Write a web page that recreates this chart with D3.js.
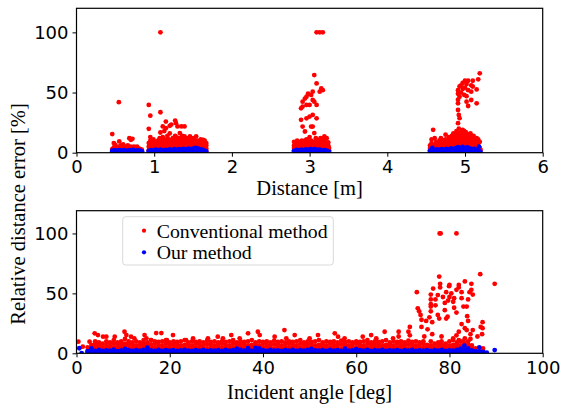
<!DOCTYPE html>
<html>
<head>
<title>Relative distance error</title>
<script src="https://d3js.org/d3.v7.min.js"></script>
<style>body{margin:0;background:#fff}</style>
</head>
<body>
<div id="container"></div>
<script>
const distTicks = [0, 1, 2, 3, 4, 5, 6];
const angleTicks = [0, 20, 40, 60, 80, 100];
const errTicks = [0, 50, 100];
const seriesNames = ["Conventional method", "Our method"];

// every entry is a column: [x, y1, y2, ...]
const distOurs = [
  [0.46,0.5,1.6],[0.49,1.2,2.0],[0.52,0.4,1.7],[0.55,1.0,2.2],[0.58,0.6,1.8],[0.61,1.3,2.1],[0.64,0.5,1.5],[0.67,1.1,2.0],[0.70,0.7,1.9],[0.73,1.2,2.3],[0.76,0.5,1.6],[0.79,1.0,2.0],[0.82,0.6,1.7],[0.845,1.0],
  [0.93,0.5,1.5],[0.96,1.0,2.2],[0.99,0.4,1.8],[1.02,1.2,2.5],[1.05,0.6,2.0],[1.08,1.1,2.6],[1.11,0.5,1.9],[1.14,1.3,2.4],[1.17,0.7,2.2],[1.20,1.2,2.8],[1.23,0.6,2.1],[1.26,1.4,2.9],[1.29,0.8,2.4],[1.32,1.3,3.0],[1.35,0.7,2.5],[1.38,1.5,3.2],[1.41,0.9,2.7],[1.44,1.4,3.3],[1.47,0.8,2.9],[1.50,1.5,3.4],[1.53,1.0,3.0,4.0],[1.56,1.4,3.5],[1.59,0.8,2.8],[1.62,1.2,2.5],[1.65,0.6,1.8],[1.67,1.0],
  [2.80,0.5,1.5],[2.83,1.1,2.3],[2.86,0.6,2.0],[2.89,1.2,2.6],[2.92,0.5,2.2],[2.95,1.3,2.8],[2.98,0.7,2.4],[3.01,1.2,3.0],[3.04,0.6,2.5],[3.07,1.3,2.9],[3.10,0.8,2.3],[3.13,1.1,2.6],[3.16,0.5,1.9],[3.19,1.0,2.2],[3.22,0.6,1.6],[3.25,0.8],
  [4.55,0.5,1.6],[4.58,1.2,2.5,4.0],[4.61,0.6,2.0],[4.64,1.3,2.8],[4.67,0.7,2.3],[4.70,1.4,3.0],[4.73,0.8,2.6],[4.76,1.5,3.2],[4.79,0.9,2.8],[4.82,1.6,3.5],[4.85,1.0,3.0],[4.88,1.7,3.8],[4.91,1.1,3.3,4.6],[4.94,1.8,3.9],[4.97,1.0,3.4,4.8],[5.00,1.7,3.8],[5.03,1.1,3.2,4.5],[5.06,1.6,3.6],[5.09,0.9,2.9],[5.12,1.5,3.1],[5.15,0.7,2.4],[5.18,1.2,5.0],[5.20,0.6]
];

const distConv = [
  [0.46,1,3,15.5],[0.48,2,4.5,8],[0.50,1.5,3.5,6.5],[0.52,2.5,4],[0.545,1,3,42],[0.55,2,5,9.4],[0.57,1.5,3.5,6],[0.60,2,4,7],[0.62,1,3,5],[0.64,2.5,4.5],[0.66,1.5,3,6],[0.68,2,4,12],[0.70,1,3,5,10.7],[0.72,2,4,11.5],[0.74,1.5,3,5],[0.76,2,4],[0.78,1,3,5],[0.80,2,3.5],[0.82,1.5,3],[0.84,1,2.5],
  [0.93,2,5,8,19.8,39.7],[0.95,3,6,10,13,30.8],[0.97,1.5,4,7,9],[0.99,2.5,5,8,11],[1.01,2,4,6,9],[1.03,3,5.5,7.5],[1.05,1.5,4,6.5,10],[1.07,2.5,5,8,12],[1.08,100,33.6,16.8],[1.09,2,4.5,7,9.5],[1.11,3,6,8.5,21.8,13],[1.13,1.5,4,7,10,18],[1.15,2.5,5,8,11,20.4,25.9],[1.17,2,4,6.5,9,14],[1.19,3,5.5,8,11],[1.20,22.3,16],[1.22,1.5,4.5,7,10,23.4],[1.24,2.5,5,7.5,12],[1.26,2,4,6.5,9,11],[1.27,26.7,14],[1.28,3,5.5,8,10.5,24.5],[1.30,1.5,4,7,9.5,21.8,12.5],[1.32,2.5,5,8,11],[1.33,16.3],[1.34,2,4.5,6.5,9,12],[1.35,21.8],[1.36,3,5,7.5,10,14],[1.38,1.5,4,6,9,11.5],[1.39,21.8,13.5],[1.40,2.5,5,8,10],[1.42,2,4.5,7,9.5,12],[1.44,3,5.5,8,11],[1.46,1.5,4,6.5,9,13.5],[1.48,2.5,5,7,10],[1.50,2,4,6.5,9,12],[1.52,3,5.5,8,10.5],[1.54,1.5,4.5,7,9,13.5],[1.56,2.5,5,7.5,10],[1.58,2,4,6,8.5],[1.60,3,5,7,9.5,11],[1.62,1.5,4,6.5,8.5],[1.63,10.7],[1.65,2,4.5,7,8,10],[1.67,1.5,3.5,6,8],
  [2.80,2,4,6,9],[2.82,1.5,3.5,5.5,8],[2.84,2.5,5,7,10],[2.86,2,4,6,9],[2.88,1.5,3.5,6.5,8.5],[2.89,27.3,36.9],[2.90,2.5,5,7.5,10],[2.91,21.7,38.3,42.4],[2.92,2,4,6,9],[2.94,1.5,3.5,7,10,17.6,45],[2.96,2.5,5,8,11,28.6,39.7,46.5],[2.98,2,4.5,7,9,49],[3.00,1.5,4,6,8.5,13,30,39.7],[3.02,2.5,5,7.5,10,21.7,48],[3.04,2,4,6.5,9,31.4,21.7,43.8,50.7],[3.06,1.5,3.5,6,8,16.3,42.4,64.5],[3.08,2.5,5,7,10,12],[3.09,28.6,39.7,57.6,100],[3.10,2,4,6.5,9],[3.12,1.5,3.5,7,10.5],[3.13,50.7,100],[3.14,2.5,5,8,12],[3.15,53.4],[3.16,2,4,6,9,11],[3.17,52,100],[3.18,1.5,4.5,7,10],[3.19,13.5],[3.20,2.5,5,8,11],[3.22,2,4,6.5,12],[3.24,1.5,3.5,6,8.5],[3.25,2,4],
  [4.55,2,4,6],[4.57,1.5,3.5,8,11],[4.59,2.5,5,19],[4.61,2,4,6.5,12],[4.63,1.5,3.5,5.5,9],[4.65,2.5,5,7.5],[4.67,2,4,6,10],[4.69,1.5,3.5,7,12],[4.71,2.5,5,8,10.5],[4.73,2,4.5,6.5,9],[4.75,1.5,4,7,11,15],[4.77,2.5,5,8,10],[4.79,2,4,6.5,9.5,13],[4.81,1.5,3.5,7,10,12],[4.83,2.5,5,8,11,14],[4.85,2,4.5,7,10,13,16],[4.87,1.5,4,6.5,9,12,15],[4.89,2.5,5,8,11,14,18],[4.91,2,4.5,7,10,13,16,24.5,35.5,41,44,49,52],[4.92,31.4,20],[4.93,1.5,4,7,9.5,12.5,15,28.7,46.5,55],[4.95,2.5,5,8,11,14,17,56,50],[4.97,2,4.5,7.5,10,13,16,19,58,53],[4.99,1.5,4,6.5,9.5,12,15,18,48],[5.00,59.8,54],[5.01,2.5,5,8,11,14,17],[5.02,42.4,47,57],[5.03,2,4.5,7,10,13,15.5],[5.04,59.8,52,38.8],[5.05,1.5,4,6.5,9,12,14],[5.07,2.5,5,8,11,13,16],[5.08,50.7,43.8,56],[5.09,2,4,7,9.5,12],[5.10,59.8,55],[5.11,1.5,4,6,9,11,14],[5.13,2.5,5,7.5,10],[5.15,2,4,6.5,9,52.6,41,12],[5.17,1.5,3.5,6,8,61,11],[5.19,2,4,66,9],[5.20,2.5]
];

const angleOurs = [
  [0.6,4.2],[1.1,0.2],
  [2.4,0.5,1.8],[3.2,1.2,2.6,4.0],[4,0.6,2.0],[4.8,1.4,2.8],[5.6,0.5,1.9],[6.4,1.1,2.5],[7.2,0.7,2.2],[8,1.3,3.0],[8.8,0.5,1.8],[9.6,1.0,2.4],[10.4,0.6,2.1,3.6],[11.2,1.2,2.7],[12,0.5,2.0],[12.8,1.3,2.6],[13.6,0.8,2.2],[14.4,1.1,2.8],[15.2,0.6,2.3,4.8],[16,1.4,2.5],[16.8,0.5,1.9],[17.6,1.2,2.9],[18.4,0.7,2.1],[19.2,1.0,2.6],[20,0.5,2.2],[20.8,1.3,2.7],[21.6,0.6,1.9],[22.4,1.1,2.4],[23.2,0.8,2.8],[24,1.2,2.2],[24.8,0.5,2.0],[25.6,1.4,2.6],[26.4,0.6,2.3],[27.2,1.0,2.9],[28,0.7,2.1],[28.8,1.3,2.5],[29.6,0.5,2.2],[30.4,1.1,2.7],[31.2,0.6,2.0],[32,1.2,2.8],[32.8,0.8,2.3],[33.6,1.0,2.6],[34.4,0.5,2.1,3.8],[35.2,1.3,2.9],[36,0.6,2.2],[36.8,1.2,2.5,4.2],[37.6,0.7,2.0],[38.4,1.1,2.7,4.5],[39.2,0.5,2.3,4.0],[40,1.4,2.6],[40.8,0.6,2.1],[41.6,1.0,2.8],[42.4,0.8,2.2],[43.2,1.2,2.5],[44,0.5,2.0],[44.8,1.3,2.7],[45.6,0.6,2.3],[46.4,1.1,2.9],[47.2,0.7,2.1],[48,1.2,2.6],[48.8,0.5,2.2],[49.6,1.0,2.8],[50.4,0.6,2.0,3.6],[51.2,1.3,2.5],[52,0.8,2.3],[52.8,1.1,2.7],[53.6,0.5,2.1],[54.4,1.2,2.9],[55.2,0.6,2.2],[56,1.0,2.6],[56.8,0.7,2.0],[57.6,1.4,2.8,3.8],[58.4,0.5,2.3],[59.2,1.1,2.5],[60,0.6,2.1,3.5],[60.8,1.2,2.7],[61.6,0.8,2.2],[62.4,1.0,2.9],[63.2,0.5,2.0],[64,1.3,2.6],[64.8,0.6,2.3],[65.6,1.1,2.8],[66.4,0.7,2.1],[67.2,1.2,2.5],[68,0.5,2.2],[68.8,1.0,2.7],[69.6,0.6,2.0],[70.4,1.3,2.6],[71.2,0.8,2.3],[72,1.1,2.8],[72.8,0.5,2.1],[73.6,1.2,2.5],[74.4,0.6,2.2],[75.2,1.0,2.7],[76,0.7,2.0],[76.8,1.4,2.6],[77.6,0.5,2.3],[78.4,1.1,2.9],[79.2,0.6,2.1],[80,1.2,2.5],[80.8,0.8,2.2],[81.6,1.0,2.8],[82.4,0.5,2.4,3.8],[83.2,1.3,2.6,6.3],[84,0.6,2.0,4.0],[84.8,1.1,2.4],[85.6,0.7,1.8],[86.4,0.4,1.5,5.0],[87.2,0.8,1.2],[88,0.5],[89.7,2.7]
];

const angleConv = [
  [0.4,9.7],[1.35,5.5],[2.4,2,5],[2.8,9.7],
  [3.2,1.5,4,7],[4,2.5,5.5,8,10],[4.8,1.5,4,6.5,9],[5.6,3,5,8],[6.4,2,4.5,7,10],[7.2,1.5,3.5,6,9],[8,2.5,5,8,11],[8.8,1.5,4,6.5,9],[9.6,2,5,7.5,10],[10.4,3,5.5,8,12],[11.2,1.5,4,7,10],[12,2.5,5,7.5,9],[12.8,2,4.5,6.5,10],[13.6,1.5,4,7,9],[14.4,2.5,5.5,8,11],[15.2,2,4,6.5,9],[16,1.5,5,7.5,11],[16.8,3,5,8,10],[17.6,2,4.5,7,9.5],[18.4,1.5,4,6.5,10],[19.2,2.5,5,8,11],[20,2,4,7,9],[20.8,1.5,5,7.5,10],[21.6,3,5.5,8,9.5],[22.4,2,4,6.5,10],[23.2,1.5,4.5,7,11],[24,2.5,5,7.5,9],[24.8,2,4,6.5,10],[25.6,1.5,5,8,9.5],[26.4,3,5,7,10],[27.2,2,4.5,6.5,9],[28,1.5,4,7.5,10.5],[28.8,2.5,5.5,8,9.5],[29.6,2,4,6.5,10],[30.4,1.5,5,7.5,9],[31.2,3,5,8,10],[32,2,4.5,7,9.5],[32.8,1.5,4,6.5,10],[33.6,2.5,5,8,11],[34.4,2,4,7,9],[35.2,1.5,5,7.5,10],[36,3,5.5,8,9.5],[36.8,2,4,6.5,10],[37.6,1.5,4.5,7,11],[38.4,2.5,5,7.5,9],[39.2,2,4,6.5,10],[40,1.5,5,8,9.5],[40.8,3,5,7,10],[41.6,2,4.5,6.5,9],[42.4,1.5,4,7.5,10.5],[43.2,2.5,5.5,8,9.5],[44,2,4,6.5,10],[44.8,1.5,5,7.5,9],[45.6,3,5,8,10],[46.4,2,4.5,7,9.5],[47.2,1.5,4,6.5,10],[48,2.5,5,8,11],[48.8,2,4,7,9],[49.6,1.5,5,7.5,10],[50.4,3,5.5,8,9.5],[51.2,2,4,6.5,10],[52,1.5,4.5,7,11],[52.8,2.5,5,7.5,9],[53.6,2,4,6.5,10],[54.4,1.5,5,8,9.5],[55.2,3,5,7,10],[56,2,4.5,6.5,9],[56.8,1.5,4,7.5,10.5],[57.6,2.5,5.5,8,9.5],[58.4,2,4,6.5,10],[59.2,1.5,5,7.5,9],[60,3,5,8,10],[60.8,2,4.5,7,9.5],[61.6,1.5,4,6.5,10],[62.4,2.5,5,8,11],[63.2,2,4,7,9],[64,1.5,5,7.5,10],[64.8,3,5.5,8,9.5],[65.6,2,4,6.5,10],[66.4,1.5,4.5,7,11],[67.2,2.5,5,7.5,9],[68,2,4,6.5,10],[68.8,1.5,5,8,9.5],[69.6,3,5,7,10],[70.4,2,4.5,6.5,9],[71.2,1.5,4,7.5,10.5],[72,2.5,5.5,8,9.5],[72.8,2,4,6.5,10],[73.6,1.5,5,7.5,9],[74.4,3,5,8,10],[75.2,2,4.5,7],[76,1.5,4,6.5,10],[76.8,2.5,5,8],[77.6,2,4,7,9],[78.4,1.5,5,7.5],[79.2,3,5.5,8],[80,2,4,6.5,10],[80.8,1.5,4.5,7,11],[81.6,2.5,5,7.5,9],[82.4,2,4,6.5,10],[83.2,1.5,5,8],[84,3,5,7,10],[84.8,2,4.5,6.5],[85.6,1.5,4],[86.4,2.5],[87.2,2,4],
  [3.9,16.7],[4.6,15.2],[5.7,13.9],[6.4,13.9],[8.2,13.9],[10.3,18],[10.7,15.2],[11.7,13.9],[12.4,12.5],[14.6,15.2],[15,12.5],[16,11],[17.1,16.9],[18.2,16.9],[19.4,11],[20.7,15.2],[23.5,11],[25,12.5],[28.2,12.5],[30.3,13.9],[31.4,12.5],[33.2,15.2],[35,12.5],[36.8,16.7],[38.9,18],[39.3,15.2],[42.5,13.9],[44.6,19.4],[45,12.5],[46.8,15.2],[50,12.5],[51.8,15.2],[55.4,16.7],[56.1,13.9],[57.5,12.5],[61.4,13.9],[63.2,15.2],[64.3,12.5],[66.1,18],[67.9,12.5],[69.1,18,14],[71.2,18],[71.5,22,15],
  [73,51],[73.2,37.5],[73.5,35],[73.8,32],[74,28,22],[74.6,14],[75,27],[75.3,20],[75.7,30],[76,49,45,41,39,35],[76.3,26,16],[76.5,54],[77,45,40],[77.5,48.6,32],[77.8,64,29],[77.9,100],[78,55,58],[78.1,100],[78.3,14,10],[78.6,47],[79,36,42],[79.3,51,29],[79.6,30.5],[79.7,44],[79.9,56],[80,57,47],[80.4,50],[80.8,43,12.5],[81,46,38],[81.5,53,34,100,15],[82,57,55,18,11],[82.6,51,46,24.4],[83,39,10],[83.3,60,21,12.5],[83.7,39,19.4],[83.8,31],[84,45,27],[84.3,51],[84.5,16,12],[84.7,58,53],[85,49,19.4],[86,14],[86.6,66],[86.7,22],[87.1,26,21],[87,16],[89.7,58]
];

const flat = cols => cols.flatMap(c => c.slice(1).map(v => [c[0], v]));

const width = 561, height = 405;
const left = 76.5, right = 542.7;
const RED = "#ff0000", BLUE = "#0000ff";
const tickFont = "'DejaVu Sans', sans-serif";
const labelFont = "'Liberation Serif', 'Times New Roman', serif";
const dotR = 2.4;

const svg = d3.select("#container").append("svg")
  .attr("width", width)
  .attr("height", height)
  .style("display", "block");

function panel(id, top, bottom, xDomain, xTicks, yMax, conv, ours, xLabel, labelY) {
  const x = d3.scaleLinear().domain(xDomain).range([left, right]);
  const y = d3.scaleLinear().domain([0, yMax]).range([bottom, top]);

  svg.append("clipPath").attr("id", id)
    .append("rect").attr("x", left).attr("y", top)
    .attr("width", right - left).attr("height", bottom - top);

  const g = svg.append("g").attr("clip-path", `url(#${id})`);
  g.selectAll("circle.conv").data(flat(conv)).join("circle")
    .attr("class", "conv")
    .attr("cx", d => x(d[0])).attr("cy", d => y(d[1]))
    .attr("r", dotR).attr("fill", RED);
  g.selectAll("circle.ours").data(flat(ours)).join("circle")
    .attr("class", "ours")
    .attr("cx", d => x(d[0])).attr("cy", d => y(d[1]))
    .attr("r", dotR).attr("fill", BLUE);

  const xa = svg.append("g")
    .attr("transform", `translate(0,${bottom})`)
    .call(d3.axisBottom(x).tickValues(xTicks).tickFormat(d3.format("d"))
      .tickSize(4).tickPadding(4).tickSizeOuter(0));
  const ya = svg.append("g")
    .attr("transform", `translate(${left},0)`)
    .call(d3.axisLeft(y).tickValues(errTicks).tickSize(4).tickPadding(4).tickSizeOuter(0));
  [xa, ya].forEach(a => {
    a.select(".domain").remove();
    a.selectAll("line").attr("stroke", "#000");
    a.selectAll("text").attr("fill", "#000")
      .style("font-family", tickFont).style("font-size", "18px");
  });

  svg.append("rect")
    .attr("x", left).attr("y", top)
    .attr("width", right - left).attr("height", bottom - top)
    .attr("fill", "none").attr("stroke", "#000").attr("stroke-width", 1.2);

  svg.append("text")
    .attr("x", (left + right) / 2).attr("y", labelY)
    .attr("text-anchor", "middle")
    .style("font-family", labelFont).style("font-size", "20.5px")
    .text(xLabel);
}

panel("clipTop", 8.3, 152.7, [0, 6], distTicks, 120, distConv, distOurs, "Distance [m]", 195);
panel("clipBottom", 210.7, 353.3, [0, 100], angleTicks, 119, angleConv, angleOurs, "Incident angle [deg]", 399);

svg.append("text")
  .attr("transform", "translate(25,214) rotate(-90)")
  .attr("text-anchor", "middle")
  .style("font-family", labelFont).style("font-size", "20.5px")
  .text("Relative distance error [%]");

// legend
const legend = svg.append("g");
legend.append("rect")
  .attr("x", 122.7).attr("y", 216.7).attr("width", 210.6).attr("height", 48.3)
  .attr("rx", 3).attr("fill", "#fff").attr("fill-opacity", 0.8)
  .attr("stroke", "#d9d9d9").attr("stroke-width", 1);
[RED, BLUE].forEach((c, i) => {
  legend.append("circle").attr("cx", 144).attr("cy", 230.7 + i * 21.6).attr("r", 2.1).attr("fill", c);
  legend.append("text").attr("x", 156.7).attr("y", 237.5 + i * 21.6)
    .style("font-family", labelFont).style("font-size", "19.8px")
    .text(seriesNames[i]);
});
</script>
</body>
</html>
